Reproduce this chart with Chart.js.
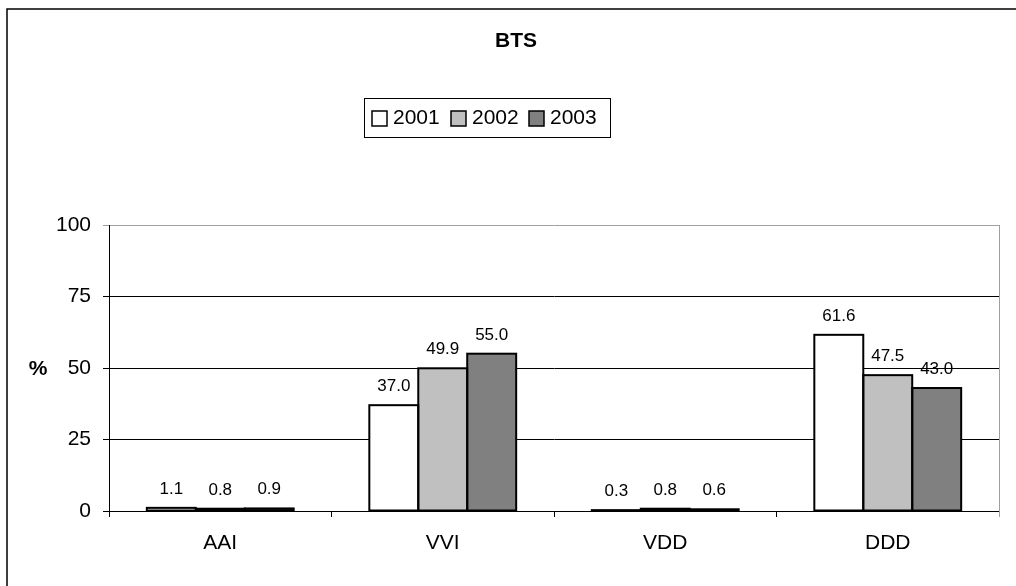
<!DOCTYPE html>
<html>
<head>
<meta charset="utf-8">
<script src="https://cdn.jsdelivr.net/npm/chart.js@4/dist/chart.umd.min.js"></script>
<style>
html,body{margin:0;padding:0;background:#fff;}
canvas{display:block;}
</style>
</head>
<body>
<canvas id="c" width="1016" height="586"></canvas>
<script>
const chartTitle = "BTS";
const categories = ["AAI", "VVI", "VDD", "DDD"];
const seriesNames = ["2001", "2002", "2003"];
const values2001 = [1.1, 37.0, 0.3, 61.6];
const values2002 = [0.8, 49.9, 0.8, 47.5];
const values2003 = [0.9, 55.0, 0.6, 43.0];
const seriesColors = ["#ffffff", "#c0c0c0", "#808080"];
const yTicks = [0, 25, 50, 75, 100];
const yLabel = "%";

const FONT = "'Liberation Sans', Arial, sans-serif";

const decorPlugin = {
  id: 'decor',
  beforeDraw(chart) {
    const ctx = chart.ctx;
    ctx.save();
    ctx.fillStyle = '#fff';
    ctx.fillRect(0, 0, chart.width, chart.height);
    ctx.strokeStyle = '#000';
    ctx.lineWidth = 1.5;
    ctx.beginPath();
    ctx.moveTo(7, chart.height);
    ctx.lineTo(7, 9);
    ctx.lineTo(chart.width, 9);
    ctx.stroke();
    ctx.restore();
  },
  afterDatasetsDraw(chart) {
    // outline each bar with a centred stroke, as the reference does
    const ctx = chart.ctx;
    ctx.save();
    ctx.strokeStyle = '#000';
    ctx.lineWidth = 2;
    chart.data.datasets.forEach((ds, di) => {
      const meta = chart.getDatasetMeta(di);
      meta.data.forEach(bar => {
        const p = bar.getProps(['x', 'y', 'base', 'width'], true);
        const l = p.x - p.width / 2, r = p.x + p.width / 2;
        ctx.strokeRect(l, p.y, r - l, p.base - p.y);
      });
    });
    ctx.restore();
  },
  afterDraw(chart) {
    const ctx = chart.ctx;
    const a = chart.chartArea;
    ctx.save();
    ctx.strokeStyle = '#a0a0a0';
    ctx.lineWidth = 1;
    ctx.beginPath();
    ctx.moveTo(a.right + 0.5, a.top);
    ctx.lineTo(a.right + 0.5, a.bottom + 6);
    ctx.stroke();

    ctx.fillStyle = '#000';
    ctx.font = 'bold 21px ' + FONT;
    ctx.textAlign = 'center';
    ctx.textBaseline = 'middle';
    ctx.fillText(chartTitle, 516, 41);

    ctx.fillText(yLabel, 38, 369);

    ctx.strokeStyle = '#000';
    ctx.lineWidth = 1;
    ctx.strokeRect(364.5, 98.5, 246, 39);
    const boxX = [372, 451, 529];
    ctx.font = '21px ' + FONT;
    ctx.textAlign = 'left';
    ctx.textBaseline = 'middle';
    seriesNames.forEach((n, i) => {
      ctx.fillStyle = seriesColors[i];
      ctx.fillRect(boxX[i], 111, 15, 15);
      ctx.lineWidth = 1.5;
      ctx.strokeStyle = '#000';
      ctx.strokeRect(boxX[i], 111, 15, 15);
      ctx.fillStyle = '#000';
      ctx.fillText(n, boxX[i] + 21, 118.5);
    });

    ctx.font = '17px ' + FONT;
    ctx.textAlign = 'center';
    ctx.textBaseline = 'alphabetic';
    chart.data.datasets.forEach((ds, di) => {
      const meta = chart.getDatasetMeta(di);
      meta.data.forEach((bar, i) => {
        ctx.fillStyle = '#000';
        ctx.fillText(ds.data[i].toFixed(1), bar.x, bar.y - 14);
      });
    });
    ctx.restore();
  }
};

const datasets = [values2001, values2002, values2003].map((v, i) => ({
  label: seriesNames[i],
  data: v,
  backgroundColor: seriesColors[i],
  borderWidth: 0,
  barPercentage: 1.0,
  categoryPercentage: 0.66
}));

new Chart(document.getElementById('c'), {
  type: 'bar',
  data: { labels: categories, datasets },
  options: {
    responsive: false,
    animation: false,
    devicePixelRatio: 1,
    layout: { padding: { left: 0, right: 17, top: 225, bottom: 0 } },
    plugins: {
      legend: { display: false },
      title: { display: false },
      tooltip: { enabled: false }
    },
    scales: {
      x: {
        grid: { drawOnChartArea: false, drawTicks: true, tickLength: 6, color: '#000', offset: true },
        border: { color: '#000', width: 1 },
        ticks: { color: '#000', font: { family: FONT, size: 21 }, padding: 14 },
        afterFit(s) { s.height = 75; }
      },
      y: {
        min: 0, max: 100,
        afterBuildTicks(s) { s.ticks = yTicks.map(v => ({ value: v })); },
        grid: {
          color: c => (c.tick && c.tick.value === 100) ? '#a0a0a0' : '#000',
          tickLength: 6,
          lineWidth: 1
        },
        border: { color: '#000', width: 1 },
        ticks: { color: '#000', font: { family: FONT, size: 21 }, padding: 12 },
        afterFit(s) { s.width = 109; }
      }
    }
  },
  plugins: [decorPlugin]
});
</script>
</body>
</html>
